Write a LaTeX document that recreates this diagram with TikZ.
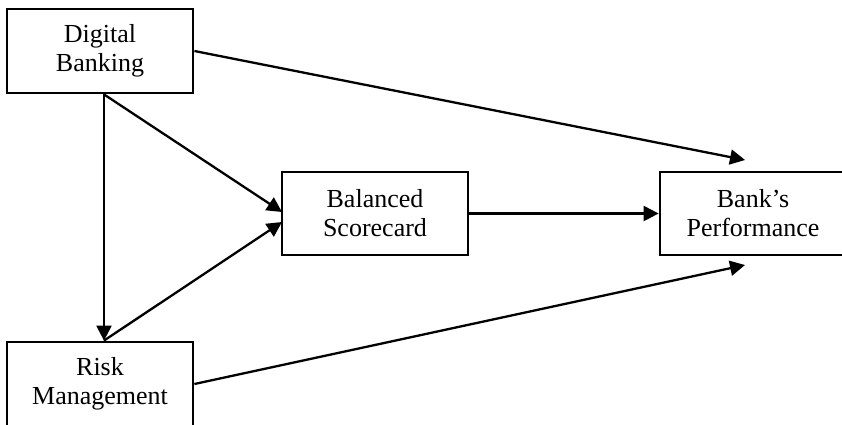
\documentclass[tikz,border=0pt]{standalone}
\usepackage{fontspec}
\setmainfont{Liberation Serif}
\usepackage{tikz}
\usetikzlibrary{positioning, arrows.meta}

\begin{document}
\begin{tikzpicture}[
  x=1pt, y=-1pt,
  every node/.style={font=\fontsize{26}{29}\selectfont},
  box/.style={draw, line width=2.8pt, minimum width=186pt, minimum height=84pt, inner sep=0pt, align=center},
  arr/.style={-{Triangle[length=15pt, width=15pt]}, line width=2.3pt},
]
  \useasboundingbox (0,0) rectangle (842,424);

  % Constructs
  \node[box] (digital) at (100,51) {Digital\\Banking};
  \node[box] (risk) at (100,384) {Risk\\Management};
  \node[box, minimum height=83pt] (bsc) at (375,213.5) {Balanced\\Scorecard};
  \node[box, minimum height=83pt] (perf) at (753,213.5) {Bank's\\Performance};

  % Arrow ends
  \coordinate (digitalOut) at ([xshift=4pt]digital.south);
  \coordinate (riskIn) at ([xshift=4pt]risk.north);
  \coordinate (bscInA) at (282,212);
  \coordinate (bscInB) at (282,222);
  \coordinate (perfTop) at (745,160);
  \coordinate (perfBot) at (745,265);

  % Arrows
  \draw[arr] (digital.east) -- (perfTop);
  \draw[arr] (digitalOut) -- (riskIn);
  \draw[arr] (digitalOut) -- (bscInA);
  \draw[arr] (riskIn) -- (bscInB);
  \draw[arr] (bsc) -- (perf);
  \draw[arr] (risk.east) -- (perfBot);
\end{tikzpicture}
\end{document}
